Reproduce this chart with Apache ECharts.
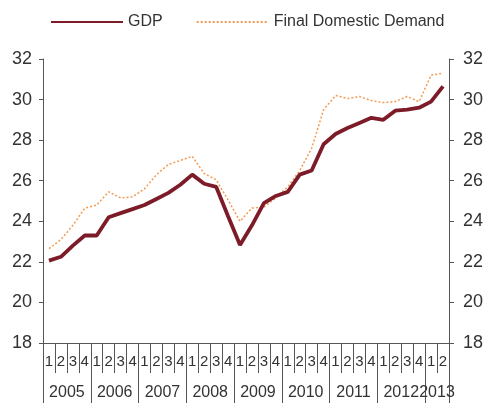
<!DOCTYPE html>
<html>
<head>
<meta charset="utf-8">
<script src="https://cdn.jsdelivr.net/npm/echarts@6/dist/echarts.min.js"></script>
<style>html,body{margin:0;padding:0;background:#fff}#c{width:486px;height:405px}</style>
</head>
<body>
<div id="c"></div>
<script>
const years = ['2005','2006','2007','2008','2009','2010','2011','2012','2013'];
const quarterLabels = ['1','2','3','4'];
const quarters = [];
const quarterYears = [];
years.forEach(function (y) {
  const n = y === '2013' ? 2 : 4;
  for (let q = 0; q < n; q++) { quarters.push(y + 'Q' + quarterLabels[q]); quarterYears.push(y); }
});
const gdp = [22.06, 22.25, 22.8, 23.3, 23.3, 24.2, 24.4, 24.6, 24.8, 25.1, 25.4, 25.8,
  26.3, 25.85, 25.7, 24.25, 22.83, 23.8, 24.9, 25.25, 25.45, 26.3, 26.5, 27.8,
  28.3, 28.6, 28.85, 29.1, 29.0, 29.45, 29.5, 29.6, 29.9, 30.65];
const fdd = [22.65, 23.1, 23.8, 24.65, 24.8, 25.45, 25.15, 25.2, 25.6, 26.3, 26.8, 27.0,
  27.2, 26.35, 26.05, 25.05, 24.0, 24.65, 24.7, 25.15, 25.7, 26.5, 27.6, 29.5,
  30.2, 30.05, 30.15, 29.95, 29.85, 29.9, 30.15, 29.9, 31.2, 31.3];

const axisColor = '#555';
const textColor = '#333';
const font = 'Liberation Sans';
const chart = echarts.init(document.getElementById('c'), null, {renderer: 'canvas'});
chart.setOption({
  animation: false,
  backgroundColor: '#fff',
  textStyle: {fontFamily: font},
  legend: {
    top: 9, left: 45, itemWidth: 72, itemHeight: 10, itemGap: 33,
    textStyle: {fontSize: 16, color: textColor, fontFamily: font},
    itemStyle: {opacity: 0},
    data: ['GDP', 'Final Domestic Demand']
  },
  grid: {left: 43, right: 35, top: 59, bottom: 62, containLabel: false},
  xAxis: [{
    type: 'category', data: quarters, position: 'bottom', boundaryGap: true,
    axisLine: {show: true, lineStyle: {color: axisColor, width: 1}},
    axisTick: {show: true, interval: 0, length: 30, lineStyle: {color: axisColor}},
    axisLabel: {interval: 0, margin: 11, fontSize: 15, color: textColor, fontFamily: font,
      formatter: function (v) { return v.slice(-1); }}
  }, {
    type: 'category', data: quarters, position: 'bottom', boundaryGap: true,
    axisLine: {show: false},
    axisTick: {show: true, interval: function (i) { return i % 4 === 0; }, length: 60, lineStyle: {color: axisColor}},
    axisLabel: {interval: function (i) { return i % 4 === 1; }, margin: 42, fontSize: 16, color: textColor,
      fontFamily: font,
      formatter: function (v, i) {
        const y = quarterYears[i];
        return y === '2013' ? '{b|' + y + '}' : '{a|' + y + '}';
      },
      rich: {
        a: {fontSize: 16, color: textColor, fontFamily: font, padding: [0, 0, 0, 12]},
        b: {fontSize: 16, color: textColor, fontFamily: font, padding: [0, 12, 0, 0]}
      }}
  }],
  yAxis: [{
    type: 'value', position: 'left', min: 18, max: 32, interval: 2,
    axisLine: {show: true, lineStyle: {color: axisColor}},
    axisTick: {show: true, length: 4, lineStyle: {color: axisColor}},
    axisLabel: {margin: 11, fontSize: 18, color: textColor, fontFamily: font},
    splitLine: {show: false}
  }, {
    type: 'value', position: 'right', min: 18, max: 32, interval: 2,
    axisLine: {show: true, lineStyle: {color: axisColor}},
    axisTick: {show: true, length: 5, lineStyle: {color: axisColor}},
    axisLabel: {margin: 14, fontSize: 18, color: textColor, fontFamily: font},
    splitLine: {show: false}
  }],
  series: [{
    name: 'GDP', type: 'line', data: gdp, xAxisIndex: 0, yAxisIndex: 0,
    showSymbol: false, symbol: 'none', z: 3,
    lineStyle: {color: '#7d1c28', width: 3.8}, itemStyle: {color: '#7d1c28'}
  }, {
    name: 'Final Domestic Demand', type: 'line', data: fdd, xAxisIndex: 0, yAxisIndex: 0,
    showSymbol: false, symbol: 'none', z: 2,
    lineStyle: {color: '#f39a52', width: 1.5, type: [2, 2]}, itemStyle: {color: '#f39a52'}
  }]
});
</script>
</body>
</html>
